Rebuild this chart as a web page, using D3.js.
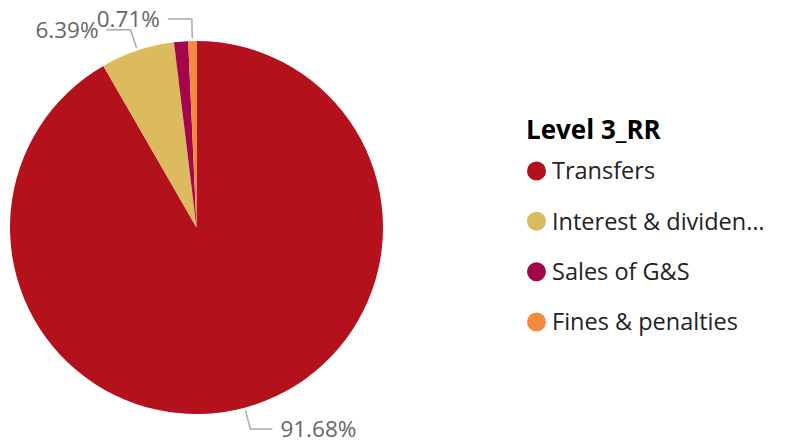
<!DOCTYPE html>
<html lang="en">
<head>
  <meta charset="UTF-8">
  <title>Level 3_RR</title>
  <script src="https://cdn.jsdelivr.net/npm/d3@7"></script>
  <style>
    body { margin: 0; background: #fff; }
    svg { display: block; font-family: "Segoe UI", "Open Sans", sans-serif; }
    .pct { fill: #666; font-size: 22.5px; }
    .leader { fill: none; stroke: #aaa; stroke-width: 1.5; }
    .legend-title { font-size: 26px; font-weight: 700; fill: #000; }
    .legend-item { font-size: 23.5px; fill: #222; }
  </style>
</head>
<body>
  <div id="chart"></div>
  <script>
    // data
    const categories = ['Transfers', 'Interest & dividends', 'Sales of G&S', 'Fines & penalties'];
    const values = [91.68, 6.39, 1.22, 0.71];
    const colors = ['#b3121c', '#dcbb5e', '#a3064a', '#f5883c'];
    const labelShown = [true, true, false, true];
    const legendTitle = 'Level 3_RR';

    const width = 787, height = 445;
    const cx = 196.5, cy = 227.5, radius = 186.5;

    const svg = d3.select('#chart').append('svg')
      .attr('width', width)
      .attr('height', height);

    const data = categories.map((c, i) => ({ name: c, value: values[i], color: colors[i], show: labelShown[i] }));

    const pie = d3.pie().sort(null).value(d => d.value);
    const arcs = pie(data);
    const arc = d3.arc().innerRadius(0).outerRadius(radius);

    const g = svg.append('g').attr('transform', `translate(${cx},${cy})`);

    g.selectAll('path.slice')
      .data(arcs)
      .enter()
      .append('path')
        .attr('class', 'slice')
        .attr('d', arc)
        .attr('fill', d => d.data.color);

    // leader lines + percentage labels
    const pt = (a, r) => [r * Math.sin(a), -r * Math.cos(a)];
    const labelled = arcs.filter(d => d.data.show);
    labelled.forEach(d => {
      const mid = (d.startAngle + d.endAngle) / 2;
      const p0 = pt(mid, radius + 3);
      const p1 = pt(mid, radius + 22);
      const right = Math.sin(mid) > 0.05;
      const p2 = [p1[0] + (right ? 22 : -24), p1[1]];
      g.append('polyline')
        .attr('class', 'leader')
        .attr('points', [p0, p1, p2].map(p => p.join(',')).join(' '));
      g.append('text')
        .attr('class', 'pct')
        .attr('x', p2[0] + (right ? 8 : -8))
        .attr('y', p2[1])
        .attr('dy', '0.35em')
        .attr('text-anchor', right ? 'start' : 'end')
        .text(d3.format('.2f')(d.data.value) + '%');
    });

    // legend
    const legend = svg.append('g').attr('transform', 'translate(526,0)');
    legend.append('text')
      .attr('class', 'legend-title')
      .attr('x', 0)
      .attr('y', 130)
      .attr('dy', '0.35em')
      .text(legendTitle);

    const y = d3.scalePoint().domain(categories).range([171, 322]);
    const maxTextWidth = 215;

    const items = legend.selectAll('g.item')
      .data(data)
      .enter()
      .append('g')
        .attr('class', 'item')
        .attr('transform', d => `translate(0,${y(d.name)})`);

    items.append('circle')
      .attr('cx', 10.5)
      .attr('cy', 0)
      .attr('r', 9.5)
      .attr('fill', d => d.color);

    items.append('text')
      .attr('class', 'legend-item')
      .attr('x', 26)
      .attr('dy', '0.35em')
      .text(d => d.name)
      .each(function(d) {
        // truncate long names with an ellipsis like the original
        const t = d3.select(this);
        let s = d.name;
        while (this.getComputedTextLength() > maxTextWidth && s.length > 1) {
          s = s.slice(0, -1);
          t.text(s.trimEnd() + '…');
        }
      });
  </script>
</body>
</html>
